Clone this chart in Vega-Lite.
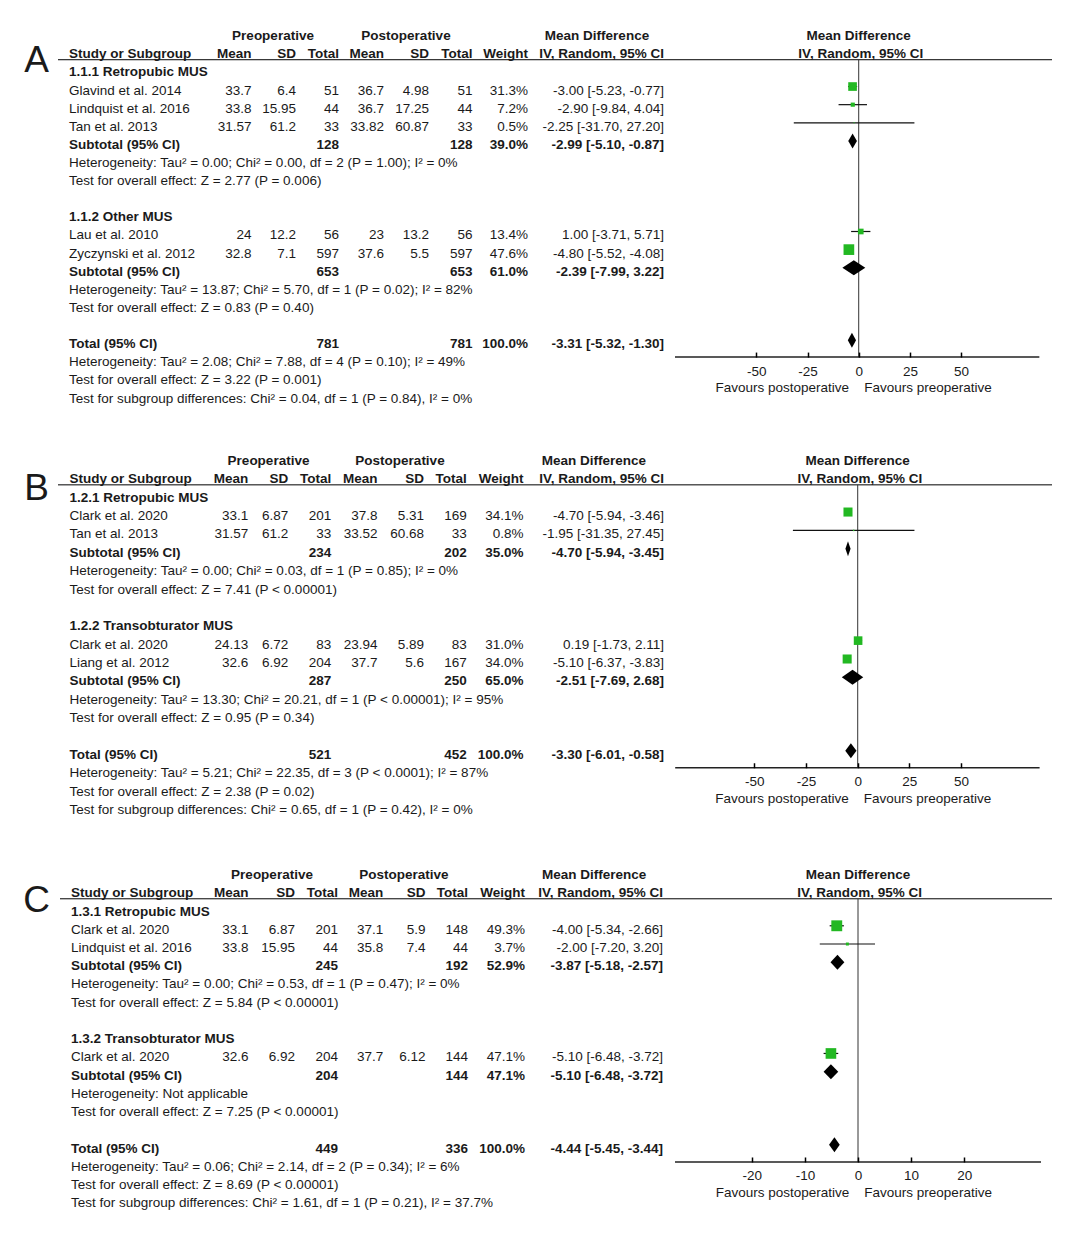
{
"$schema": "https://vega.github.io/schema/vega-lite/v6.json",
"padding": 0,
"background": "white",
"columns": 2,
"spacing": 0,
"align": "each",
"bounds": "flush",
"config": {"view": {"stroke": null}, "text": {"font": "Liberation Sans", "fontSize": 13.5, "color": "#1a1a1a", "baseline": "alphabetic", "dy": 8}},
"datasets": {"rows": [
{"p":"A","r":0,"t":"colhead","label":"Study or Subgroup","m1":"Mean","s1":"SD","n1":"Total","m2":"Mean","s2":"SD","n2":"Total","wt":"Weight","ci":"IV, Random, 95% CI"},
{"p":"A","r":1,"t":"head","label":"1.1.1 Retropubic MUS"},
{"p":"A","r":2,"t":"study","label":"Glavind et al. 2014","m1":33.7,"s1":6.4,"n1":51,"m2":36.7,"s2":4.98,"n2":51,"wt":"31.3%","ci":"-3.00 [-5.23, -0.77]","est":-3.0,"lo":-5.23,"hi":-0.77,"w":0.313},
{"p":"A","r":3,"t":"study","label":"Lindquist et al. 2016","m1":33.8,"s1":15.95,"n1":44,"m2":36.7,"s2":17.25,"n2":44,"wt":"7.2%","ci":"-2.90 [-9.84, 4.04]","est":-2.9,"lo":-9.84,"hi":4.04,"w":0.072},
{"p":"A","r":4,"t":"study","label":"Tan et al. 2013","m1":31.57,"s1":61.2,"n1":33,"m2":33.82,"s2":60.87,"n2":33,"wt":"0.5%","ci":"-2.25 [-31.70, 27.20]","est":-2.25,"lo":-31.7,"hi":27.2,"w":0.005},
{"p":"A","r":5,"t":"sub","label":"Subtotal (95% CI)","n1":128,"n2":128,"wt":"39.0%","ci":"-2.99 [-5.10, -0.87]","est":-2.99,"lo":-5.1,"hi":-0.87},
{"p":"A","r":6,"t":"note","label":"Heterogeneity: Tau² = 0.00; Chi² = 0.00, df = 2 (P = 1.00); I² = 0%"},
{"p":"A","r":7,"t":"note","label":"Test for overall effect: Z = 2.77 (P = 0.006)"},
{"p":"A","r":9,"t":"head","label":"1.1.2 Other MUS"},
{"p":"A","r":10,"t":"study","label":"Lau et al. 2010","m1":24,"s1":12.2,"n1":56,"m2":23,"s2":13.2,"n2":56,"wt":"13.4%","ci":"1.00 [-3.71, 5.71]","est":1.0,"lo":-3.71,"hi":5.71,"w":0.134},
{"p":"A","r":11,"t":"study","label":"Zyczynski et al. 2012","m1":32.8,"s1":7.1,"n1":597,"m2":37.6,"s2":5.5,"n2":597,"wt":"47.6%","ci":"-4.80 [-5.52, -4.08]","est":-4.8,"lo":-5.52,"hi":-4.08,"w":0.476},
{"p":"A","r":12,"t":"sub","label":"Subtotal (95% CI)","n1":653,"n2":653,"wt":"61.0%","ci":"-2.39 [-7.99, 3.22]","est":-2.39,"lo":-7.99,"hi":3.22},
{"p":"A","r":13,"t":"note","label":"Heterogeneity: Tau² = 13.87; Chi² = 5.70, df = 1 (P = 0.02); I² = 82%"},
{"p":"A","r":14,"t":"note","label":"Test for overall effect: Z = 0.83 (P = 0.40)"},
{"p":"A","r":16,"t":"tot","label":"Total (95% CI)","n1":781,"n2":781,"wt":"100.0%","ci":"-3.31 [-5.32, -1.30]","est":-3.31,"lo":-5.32,"hi":-1.3},
{"p":"A","r":17,"t":"note","label":"Heterogeneity: Tau² = 2.08; Chi² = 7.88, df = 4 (P = 0.10); I² = 49%"},
{"p":"A","r":18,"t":"note","label":"Test for overall effect: Z = 3.22 (P = 0.001)"},
{"p":"A","r":19,"t":"note","label":"Test for subgroup differences: Chi² = 0.04, df = 1 (P = 0.84), I² = 0%"},
{"p":"B","r":0,"t":"colhead","label":"Study or Subgroup","m1":"Mean","s1":"SD","n1":"Total","m2":"Mean","s2":"SD","n2":"Total","wt":"Weight","ci":"IV, Random, 95% CI"},
{"p":"B","r":1,"t":"head","label":"1.2.1 Retropubic MUS"},
{"p":"B","r":2,"t":"study","label":"Clark et al. 2020","m1":33.1,"s1":6.87,"n1":201,"m2":37.8,"s2":5.31,"n2":169,"wt":"34.1%","ci":"-4.70 [-5.94, -3.46]","est":-4.7,"lo":-5.94,"hi":-3.46,"w":0.341},
{"p":"B","r":3,"t":"study","label":"Tan et al. 2013","m1":31.57,"s1":61.2,"n1":33,"m2":33.52,"s2":60.68,"n2":33,"wt":"0.8%","ci":"-1.95 [-31.35, 27.45]","est":-1.95,"lo":-31.35,"hi":27.45,"w":0.008},
{"p":"B","r":4,"t":"sub","label":"Subtotal (95% CI)","n1":234,"n2":202,"wt":"35.0%","ci":"-4.70 [-5.94, -3.45]","est":-4.7,"lo":-5.94,"hi":-3.45},
{"p":"B","r":5,"t":"note","label":"Heterogeneity: Tau² = 0.00; Chi² = 0.03, df = 1 (P = 0.85); I² = 0%"},
{"p":"B","r":6,"t":"note","label":"Test for overall effect: Z = 7.41 (P < 0.00001)"},
{"p":"B","r":8,"t":"head","label":"1.2.2 Transobturator MUS"},
{"p":"B","r":9,"t":"study","label":"Clark et al. 2020","m1":24.13,"s1":6.72,"n1":83,"m2":23.94,"s2":5.89,"n2":83,"wt":"31.0%","ci":"0.19 [-1.73, 2.11]","est":0.19,"lo":-1.73,"hi":2.11,"w":0.31},
{"p":"B","r":10,"t":"study","label":"Liang et al. 2012","m1":32.6,"s1":6.92,"n1":204,"m2":37.7,"s2":5.6,"n2":167,"wt":"34.0%","ci":"-5.10 [-6.37, -3.83]","est":-5.1,"lo":-6.37,"hi":-3.83,"w":0.34},
{"p":"B","r":11,"t":"sub","label":"Subtotal (95% CI)","n1":287,"n2":250,"wt":"65.0%","ci":"-2.51 [-7.69, 2.68]","est":-2.51,"lo":-7.69,"hi":2.68},
{"p":"B","r":12,"t":"note","label":"Heterogeneity: Tau² = 13.30; Chi² = 20.21, df = 1 (P < 0.00001); I² = 95%"},
{"p":"B","r":13,"t":"note","label":"Test for overall effect: Z = 0.95 (P = 0.34)"},
{"p":"B","r":15,"t":"tot","label":"Total (95% CI)","n1":521,"n2":452,"wt":"100.0%","ci":"-3.30 [-6.01, -0.58]","est":-3.3,"lo":-6.01,"hi":-0.58},
{"p":"B","r":16,"t":"note","label":"Heterogeneity: Tau² = 5.21; Chi² = 22.35, df = 3 (P < 0.0001); I² = 87%"},
{"p":"B","r":17,"t":"note","label":"Test for overall effect: Z = 2.38 (P = 0.02)"},
{"p":"B","r":18,"t":"note","label":"Test for subgroup differences: Chi² = 0.65, df = 1 (P = 0.42), I² = 0%"},
{"p":"C","r":0,"t":"colhead","label":"Study or Subgroup","m1":"Mean","s1":"SD","n1":"Total","m2":"Mean","s2":"SD","n2":"Total","wt":"Weight","ci":"IV, Random, 95% CI"},
{"p":"C","r":1,"t":"head","label":"1.3.1 Retropubic MUS"},
{"p":"C","r":2,"t":"study","label":"Clark et al. 2020","m1":33.1,"s1":6.87,"n1":201,"m2":37.1,"s2":5.9,"n2":148,"wt":"49.3%","ci":"-4.00 [-5.34, -2.66]","est":-4.0,"lo":-5.34,"hi":-2.66,"w":0.493},
{"p":"C","r":3,"t":"study","label":"Lindquist et al. 2016","m1":33.8,"s1":15.95,"n1":44,"m2":35.8,"s2":7.4,"n2":44,"wt":"3.7%","ci":"-2.00 [-7.20, 3.20]","est":-2.0,"lo":-7.2,"hi":3.2,"w":0.037},
{"p":"C","r":4,"t":"sub","label":"Subtotal (95% CI)","n1":245,"n2":192,"wt":"52.9%","ci":"-3.87 [-5.18, -2.57]","est":-3.87,"lo":-5.18,"hi":-2.57},
{"p":"C","r":5,"t":"note","label":"Heterogeneity: Tau² = 0.00; Chi² = 0.53, df = 1 (P = 0.47); I² = 0%"},
{"p":"C","r":6,"t":"note","label":"Test for overall effect: Z = 5.84 (P < 0.00001)"},
{"p":"C","r":8,"t":"head","label":"1.3.2 Transobturator MUS"},
{"p":"C","r":9,"t":"study","label":"Clark et al. 2020","m1":32.6,"s1":6.92,"n1":204,"m2":37.7,"s2":6.12,"n2":144,"wt":"47.1%","ci":"-5.10 [-6.48, -3.72]","est":-5.1,"lo":-6.48,"hi":-3.72,"w":0.471},
{"p":"C","r":10,"t":"sub","label":"Subtotal (95% CI)","n1":204,"n2":144,"wt":"47.1%","ci":"-5.10 [-6.48, -3.72]","est":-5.1,"lo":-6.48,"hi":-3.72},
{"p":"C","r":11,"t":"note","label":"Heterogeneity: Not applicable"},
{"p":"C","r":12,"t":"note","label":"Test for overall effect: Z = 7.25 (P < 0.00001)"},
{"p":"C","r":14,"t":"tot","label":"Total (95% CI)","n1":449,"n2":336,"wt":"100.0%","ci":"-4.44 [-5.45, -3.44]","est":-4.44,"lo":-5.45,"hi":-3.44},
{"p":"C","r":15,"t":"note","label":"Heterogeneity: Tau² = 0.06; Chi² = 2.14, df = 2 (P = 0.34); I² = 6%"},
{"p":"C","r":16,"t":"note","label":"Test for overall effect: Z = 8.69 (P < 0.00001)"},
{"p":"C","r":17,"t":"note","label":"Test for subgroup differences: Chi² = 1.61, df = 1 (P = 0.21), I² = 37.7%"}
]},
"concat": [
{
"width": 668, "height": 440,
"data": {"name": "rows"},
"transform": [{"filter": "datum.p == 'A'"}],
"layer": [
{"data": {"values": [{}]}, "mark": {"type": "rule", "color": "#000", "strokeWidth": 1},
 "encoding": {"x": {"datum": 58, "type": "quantitative", "scale": {"domain": [0, 668], "nice": false, "zero": false}, "axis": null}, "x2": {"datum": 668},
  "y": {"datum": 0.52, "type": "quantitative", "scale": {"domain": [-2.776, 21.507], "reverse": true, "nice": false, "zero": false}, "axis": null}}},
{"mark": {"type": "text", "align": "left", "fontWeight": {"expr": "datum.t == 'study' || datum.t == 'note' ? 'normal' : 'bold'"}},
 "encoding": {"x": {"datum": 69, "axis": null}, "y": {"field": "r", "type": "quantitative", "axis": null}, "text": {"field": "label", "type": "nominal"}}},
{"transform": [{"filter": "isValid(datum.m1)"}], "mark": {"type": "text", "align": "right", "fontWeight": {"expr": "datum.t == 'study' ? 'normal' : 'bold'"}},
 "encoding": {"x": {"datum": 251.5, "axis": null}, "y": {"field": "r", "type": "quantitative", "axis": null}, "text": {"field": "m1", "type": "nominal"}}},
{"transform": [{"filter": "isValid(datum.s1)"}], "mark": {"type": "text", "align": "right", "fontWeight": {"expr": "datum.t == 'study' ? 'normal' : 'bold'"}},
 "encoding": {"x": {"datum": 296, "axis": null}, "y": {"field": "r", "type": "quantitative", "axis": null}, "text": {"field": "s1", "type": "nominal"}}},
{"transform": [{"filter": "isValid(datum.n1)"}], "mark": {"type": "text", "align": "right", "fontWeight": {"expr": "datum.t == 'study' ? 'normal' : 'bold'"}},
 "encoding": {"x": {"datum": 339, "axis": null}, "y": {"field": "r", "type": "quantitative", "axis": null}, "text": {"field": "n1", "type": "nominal"}}},
{"transform": [{"filter": "isValid(datum.m2)"}], "mark": {"type": "text", "align": "right", "fontWeight": {"expr": "datum.t == 'study' ? 'normal' : 'bold'"}},
 "encoding": {"x": {"datum": 384, "axis": null}, "y": {"field": "r", "type": "quantitative", "axis": null}, "text": {"field": "m2", "type": "nominal"}}},
{"transform": [{"filter": "isValid(datum.s2)"}], "mark": {"type": "text", "align": "right", "fontWeight": {"expr": "datum.t == 'study' ? 'normal' : 'bold'"}},
 "encoding": {"x": {"datum": 429, "axis": null}, "y": {"field": "r", "type": "quantitative", "axis": null}, "text": {"field": "s2", "type": "nominal"}}},
{"transform": [{"filter": "isValid(datum.n2)"}], "mark": {"type": "text", "align": "right", "fontWeight": {"expr": "datum.t == 'study' ? 'normal' : 'bold'"}},
 "encoding": {"x": {"datum": 472.5, "axis": null}, "y": {"field": "r", "type": "quantitative", "axis": null}, "text": {"field": "n2", "type": "nominal"}}},
{"transform": [{"filter": "isValid(datum.wt)"}], "mark": {"type": "text", "align": "right", "fontWeight": {"expr": "datum.t == 'study' ? 'normal' : 'bold'"}},
 "encoding": {"x": {"datum": 528, "axis": null}, "y": {"field": "r", "type": "quantitative", "axis": null}, "text": {"field": "wt", "type": "nominal"}}},
{"transform": [{"filter": "isValid(datum.ci)"}], "mark": {"type": "text", "align": "right", "fontWeight": {"expr": "datum.t == 'study' ? 'normal' : 'bold'"}},
 "encoding": {"x": {"datum": 664, "axis": null}, "y": {"field": "r", "type": "quantitative", "axis": null}, "text": {"field": "ci", "type": "nominal"}}},
{"data": {"values": [{}]}, "mark": {"type": "text", "align": "center", "fontWeight": "bold"},
 "encoding": {"x": {"datum": 273, "axis": null}, "y": {"datum": -1, "axis": null}, "text": {"value": "Preoperative"}}},
{"data": {"values": [{}]}, "mark": {"type": "text", "align": "center", "fontWeight": "bold"},
 "encoding": {"x": {"datum": 406, "axis": null}, "y": {"datum": -1, "axis": null}, "text": {"value": "Postoperative"}}},
{"data": {"values": [{}]}, "mark": {"type": "text", "align": "center", "fontWeight": "bold"},
 "encoding": {"x": {"datum": 597, "axis": null}, "y": {"datum": -1, "axis": null}, "text": {"value": "Mean Difference"}}},
{"data": {"values": [{}]}, "mark": {"type": "text", "align": "center", "fontSize": 37},
 "encoding": {"x": {"datum": 36.5, "axis": null}, "y": {"datum": 0.756, "axis": null}, "text": {"value": "A"}}}
]
},
{
"width": 384, "height": 357.07,
"data": {"name": "rows"},
"transform": [{"filter": "datum.p == 'A'"}],
"layer": [
{"data": {"values": [{}]}, "mark": {"type": "rule", "color": "#000", "strokeWidth": 1},
 "encoding": {"x": {"datum": -93.12, "type": "quantitative", "scale": {"domain": [-93.12, 94.38], "nice": false, "zero": false},
   "axis": {"values": [-50, -25, 0, 25, 50], "labelExpr": "'' + datum.value", "domain": false, "grid": false, "ticks": true, "tickSize": 5, "tickWidth": 1.5, "tickColor": "#000", "offset": -5, "labelPadding": 7, "labelFont": "Liberation Sans", "labelFontSize": 13.5, "labelColor": "#1a1a1a", "labelFlush": false, "labelOverlap": false, "title": null, "zindex": 1}},
  "x2": {"datum": 94.38},
  "y": {"datum": 0.52, "type": "quantitative", "scale": {"domain": [-2.776, 16.93], "reverse": true, "nice": false, "zero": false}, "axis": null}}},
{"data": {"values": [{}]}, "mark": {"type": "rule", "color": "#333", "strokeWidth": 1},
 "encoding": {"x": {"datum": 0}, "y": {"datum": 0.52, "axis": null}, "y2": {"datum": 16.93}}},
{"data": {"values": [{}]}, "mark": {"type": "rule", "color": "#222", "strokeWidth": 1.5},
 "encoding": {"x": {"datum": -89.7}, "x2": {"datum": 88.2}, "y": {"datum": 16.93, "axis": null}}},
{"data": {"values": [{}]}, "mark": {"type": "text", "align": "center", "fontWeight": "bold"},
 "encoding": {"x": {"datum": 0}, "y": {"datum": -1, "axis": null}, "text": {"value": "Mean Difference"}}},
{"data": {"values": [{}]}, "mark": {"type": "text", "align": "center", "fontWeight": "bold"},
 "encoding": {"x": {"datum": 1}, "y": {"datum": 0, "axis": null}, "text": {"value": "IV, Random, 95% CI"}}},
{"data": {"values": [{}]}, "mark": {"type": "text", "align": "right"},
 "encoding": {"x": {"datum": -4.7}, "y": {"datum": 18.41, "axis": null}, "text": {"value": "Favours postoperative"}}},
{"data": {"values": [{}]}, "mark": {"type": "text", "align": "left"},
 "encoding": {"x": {"datum": 2.7}, "y": {"datum": 18.41, "axis": null}, "text": {"value": "Favours preoperative"}}},
{"transform": [{"filter": "datum.t == 'study'"}], "mark": {"type": "rule", "color": "#111", "strokeWidth": 1.2},
 "encoding": {"x": {"field": "lo", "type": "quantitative"}, "x2": {"field": "hi"}, "y": {"field": "r", "type": "quantitative", "axis": null}}},
{"transform": [{"filter": "datum.t == 'study'"}], "mark": {"type": "point", "shape": "square", "filled": true, "color": "#22b822", "opacity": 1, "strokeWidth": 0},
 "encoding": {"x": {"field": "est", "type": "quantitative"}, "y": {"field": "r", "type": "quantitative", "axis": null},
  "size": {"field": "w", "type": "quantitative", "scale": {"domain": [0, 1], "range": [0, 240]}, "legend": null}}},
{"transform": [{"filter": "datum.t == 'sub' || datum.t == 'tot'"}, {"fold": ["lo", "est", "hi"], "as": ["k", "v"]}],
 "mark": {"type": "area", "color": "#000", "yOffset": {"expr": "datum.k == 'est' ? -7.5 : 0"}, "y2Offset": {"expr": "datum.k == 'est' ? 7.5 : 0"}},
 "encoding": {"x": {"field": "v", "type": "quantitative"}, "y": {"field": "r", "type": "quantitative", "axis": null, "stack": null}, "y2": {"field": "r"}, "detail": {"field": "r", "type": "nominal"}}}
]
},
{
"width": 668, "height": 420,
"data": {"name": "rows"},
"transform": [{"filter": "datum.p == 'B'"}],
"layer": [
{"data": {"values": [{}]}, "mark": {"type": "rule", "color": "#000", "strokeWidth": 1},
 "encoding": {"x": {"datum": 58, "type": "quantitative", "scale": {"domain": [0, 668], "nice": false, "zero": false}, "axis": null}, "x2": {"datum": 668},
  "y": {"datum": 0.52, "type": "quantitative", "scale": {"domain": [-1.9216, 20.942], "reverse": true, "nice": false, "zero": false}, "axis": null}}},
{"mark": {"type": "text", "align": "left", "fontWeight": {"expr": "datum.t == 'study' || datum.t == 'note' ? 'normal' : 'bold'"}},
 "encoding": {"x": {"datum": 69.5, "axis": null}, "y": {"field": "r", "type": "quantitative", "axis": null}, "text": {"field": "label", "type": "nominal"}}},
{"transform": [{"filter": "isValid(datum.m1)"}], "mark": {"type": "text", "align": "right", "fontWeight": {"expr": "datum.t == 'study' ? 'normal' : 'bold'"}},
 "encoding": {"x": {"datum": 248.3, "axis": null}, "y": {"field": "r", "type": "quantitative", "axis": null}, "text": {"field": "m1", "type": "nominal"}}},
{"transform": [{"filter": "isValid(datum.s1)"}], "mark": {"type": "text", "align": "right", "fontWeight": {"expr": "datum.t == 'study' ? 'normal' : 'bold'"}},
 "encoding": {"x": {"datum": 288.3, "axis": null}, "y": {"field": "r", "type": "quantitative", "axis": null}, "text": {"field": "s1", "type": "nominal"}}},
{"transform": [{"filter": "isValid(datum.n1)"}], "mark": {"type": "text", "align": "right", "fontWeight": {"expr": "datum.t == 'study' ? 'normal' : 'bold'"}},
 "encoding": {"x": {"datum": 331.3, "axis": null}, "y": {"field": "r", "type": "quantitative", "axis": null}, "text": {"field": "n1", "type": "nominal"}}},
{"transform": [{"filter": "isValid(datum.m2)"}], "mark": {"type": "text", "align": "right", "fontWeight": {"expr": "datum.t == 'study' ? 'normal' : 'bold'"}},
 "encoding": {"x": {"datum": 377.5, "axis": null}, "y": {"field": "r", "type": "quantitative", "axis": null}, "text": {"field": "m2", "type": "nominal"}}},
{"transform": [{"filter": "isValid(datum.s2)"}], "mark": {"type": "text", "align": "right", "fontWeight": {"expr": "datum.t == 'study' ? 'normal' : 'bold'"}},
 "encoding": {"x": {"datum": 424, "axis": null}, "y": {"field": "r", "type": "quantitative", "axis": null}, "text": {"field": "s2", "type": "nominal"}}},
{"transform": [{"filter": "isValid(datum.n2)"}], "mark": {"type": "text", "align": "right", "fontWeight": {"expr": "datum.t == 'study' ? 'normal' : 'bold'"}},
 "encoding": {"x": {"datum": 466.7, "axis": null}, "y": {"field": "r", "type": "quantitative", "axis": null}, "text": {"field": "n2", "type": "nominal"}}},
{"transform": [{"filter": "isValid(datum.wt)"}], "mark": {"type": "text", "align": "right", "fontWeight": {"expr": "datum.t == 'study' ? 'normal' : 'bold'"}},
 "encoding": {"x": {"datum": 523.5, "axis": null}, "y": {"field": "r", "type": "quantitative", "axis": null}, "text": {"field": "wt", "type": "nominal"}}},
{"transform": [{"filter": "isValid(datum.ci)"}], "mark": {"type": "text", "align": "right", "fontWeight": {"expr": "datum.t == 'study' ? 'normal' : 'bold'"}},
 "encoding": {"x": {"datum": 664, "axis": null}, "y": {"field": "r", "type": "quantitative", "axis": null}, "text": {"field": "ci", "type": "nominal"}}},
{"data": {"values": [{}]}, "mark": {"type": "text", "align": "center", "fontWeight": "bold"},
 "encoding": {"x": {"datum": 268.5, "axis": null}, "y": {"datum": -1, "axis": null}, "text": {"value": "Preoperative"}}},
{"data": {"values": [{}]}, "mark": {"type": "text", "align": "center", "fontWeight": "bold"},
 "encoding": {"x": {"datum": 400, "axis": null}, "y": {"datum": -1, "axis": null}, "text": {"value": "Postoperative"}}},
{"data": {"values": [{}]}, "mark": {"type": "text", "align": "center", "fontWeight": "bold"},
 "encoding": {"x": {"datum": 593.8, "axis": null}, "y": {"datum": -1, "axis": null}, "text": {"value": "Mean Difference"}}},
{"data": {"values": [{}]}, "mark": {"type": "text", "align": "center", "fontSize": 37},
 "encoding": {"x": {"datum": 36.5, "axis": null}, "y": {"datum": 0.91, "axis": null}, "text": {"value": "B"}}}
]
},
{
"width": 384, "height": 327.75,
"data": {"name": "rows"},
"transform": [{"filter": "datum.p == 'B'"}],
"layer": [
{"data": {"values": [{}]}, "mark": {"type": "rule", "color": "#000", "strokeWidth": 1},
 "encoding": {"x": {"datum": -91.78, "type": "quantitative", "scale": {"domain": [-91.78, 94.0], "nice": false, "zero": false},
   "axis": {"values": [-50, -25, 0, 25, 50], "labelExpr": "'' + datum.value", "domain": false, "grid": false, "ticks": true, "tickSize": 5, "tickWidth": 1.5, "tickColor": "#000", "offset": -5, "labelPadding": 7, "labelFont": "Liberation Sans", "labelFontSize": 13.5, "labelColor": "#1a1a1a", "labelFlush": false, "labelOverlap": false, "title": null, "zindex": 1}},
  "x2": {"datum": 94.0},
  "y": {"datum": 0.52, "type": "quantitative", "scale": {"domain": [-1.9216, 15.92], "reverse": true, "nice": false, "zero": false}, "axis": null}}},
{"data": {"values": [{}]}, "mark": {"type": "rule", "color": "#333", "strokeWidth": 1},
 "encoding": {"x": {"datum": 0}, "y": {"datum": 0.52, "axis": null}, "y2": {"datum": 15.92}}},
{"data": {"values": [{}]}, "mark": {"type": "rule", "color": "#222", "strokeWidth": 1.5},
 "encoding": {"x": {"datum": -88.3}, "x2": {"datum": 88.0}, "y": {"datum": 15.92, "axis": null}}},
{"data": {"values": [{}]}, "mark": {"type": "text", "align": "center", "fontWeight": "bold"},
 "encoding": {"x": {"datum": 0}, "y": {"datum": -1, "axis": null}, "text": {"value": "Mean Difference"}}},
{"data": {"values": [{}]}, "mark": {"type": "text", "align": "center", "fontWeight": "bold"},
 "encoding": {"x": {"datum": 1}, "y": {"datum": 0, "axis": null}, "text": {"value": "IV, Random, 95% CI"}}},
{"data": {"values": [{}]}, "mark": {"type": "text", "align": "right"},
 "encoding": {"x": {"datum": -4.35}, "y": {"datum": 17.43, "axis": null}, "text": {"value": "Favours postoperative"}}},
{"data": {"values": [{}]}, "mark": {"type": "text", "align": "left"},
 "encoding": {"x": {"datum": 2.9}, "y": {"datum": 17.43, "axis": null}, "text": {"value": "Favours preoperative"}}},
{"transform": [{"filter": "datum.t == 'study'"}], "mark": {"type": "rule", "color": "#111", "strokeWidth": 1.2},
 "encoding": {"x": {"field": "lo", "type": "quantitative"}, "x2": {"field": "hi"}, "y": {"field": "r", "type": "quantitative", "axis": null}}},
{"transform": [{"filter": "datum.t == 'study'"}], "mark": {"type": "point", "shape": "square", "filled": true, "color": "#22b822", "opacity": 1, "strokeWidth": 0},
 "encoding": {"x": {"field": "est", "type": "quantitative"}, "y": {"field": "r", "type": "quantitative", "axis": null},
  "size": {"field": "w", "type": "quantitative", "scale": {"domain": [0, 1], "range": [0, 240]}, "legend": null}}},
{"transform": [{"filter": "datum.t == 'sub' || datum.t == 'tot'"}, {"fold": ["lo", "est", "hi"], "as": ["k", "v"]}],
 "mark": {"type": "area", "color": "#000", "yOffset": {"expr": "datum.k == 'est' ? -7.5 : 0"}, "y2Offset": {"expr": "datum.k == 'est' ? 7.5 : 0"}},
 "encoding": {"x": {"field": "v", "type": "quantitative"}, "y": {"field": "r", "type": "quantitative", "axis": null, "stack": null}, "y2": {"field": "r"}, "detail": {"field": "r", "type": "nominal"}}}
]
},
{
"width": 668, "height": 394,
"data": {"name": "rows"},
"transform": [{"filter": "datum.p == 'C'"}],
"layer": [
{"data": {"values": [{}]}, "mark": {"type": "rule", "color": "#000", "strokeWidth": 1},
 "encoding": {"x": {"datum": 60, "type": "quantitative", "scale": {"domain": [0, 668], "nice": false, "zero": false}, "axis": null}, "x2": {"datum": 668},
  "y": {"datum": 0.52, "type": "quantitative", "scale": {"domain": [-1.6064, 19.995], "reverse": true, "nice": false, "zero": false}, "axis": null}}},
{"mark": {"type": "text", "align": "left", "fontWeight": {"expr": "datum.t == 'study' || datum.t == 'note' ? 'normal' : 'bold'"}},
 "encoding": {"x": {"datum": 71, "axis": null}, "y": {"field": "r", "type": "quantitative", "axis": null}, "text": {"field": "label", "type": "nominal"}}},
{"transform": [{"filter": "isValid(datum.m1)"}], "mark": {"type": "text", "align": "right", "fontWeight": {"expr": "datum.t == 'study' ? 'normal' : 'bold'"}},
 "encoding": {"x": {"datum": 248.5, "axis": null}, "y": {"field": "r", "type": "quantitative", "axis": null}, "text": {"field": "m1", "type": "nominal"}}},
{"transform": [{"filter": "isValid(datum.s1)"}], "mark": {"type": "text", "align": "right", "fontWeight": {"expr": "datum.t == 'study' ? 'normal' : 'bold'"}},
 "encoding": {"x": {"datum": 295, "axis": null}, "y": {"field": "r", "type": "quantitative", "axis": null}, "text": {"field": "s1", "type": "nominal"}}},
{"transform": [{"filter": "isValid(datum.n1)"}], "mark": {"type": "text", "align": "right", "fontWeight": {"expr": "datum.t == 'study' ? 'normal' : 'bold'"}},
 "encoding": {"x": {"datum": 338, "axis": null}, "y": {"field": "r", "type": "quantitative", "axis": null}, "text": {"field": "n1", "type": "nominal"}}},
{"transform": [{"filter": "isValid(datum.m2)"}], "mark": {"type": "text", "align": "right", "fontWeight": {"expr": "datum.t == 'study' ? 'normal' : 'bold'"}},
 "encoding": {"x": {"datum": 383.3, "axis": null}, "y": {"field": "r", "type": "quantitative", "axis": null}, "text": {"field": "m2", "type": "nominal"}}},
{"transform": [{"filter": "isValid(datum.s2)"}], "mark": {"type": "text", "align": "right", "fontWeight": {"expr": "datum.t == 'study' ? 'normal' : 'bold'"}},
 "encoding": {"x": {"datum": 425.5, "axis": null}, "y": {"field": "r", "type": "quantitative", "axis": null}, "text": {"field": "s2", "type": "nominal"}}},
{"transform": [{"filter": "isValid(datum.n2)"}], "mark": {"type": "text", "align": "right", "fontWeight": {"expr": "datum.t == 'study' ? 'normal' : 'bold'"}},
 "encoding": {"x": {"datum": 468, "axis": null}, "y": {"field": "r", "type": "quantitative", "axis": null}, "text": {"field": "n2", "type": "nominal"}}},
{"transform": [{"filter": "isValid(datum.wt)"}], "mark": {"type": "text", "align": "right", "fontWeight": {"expr": "datum.t == 'study' ? 'normal' : 'bold'"}},
 "encoding": {"x": {"datum": 525, "axis": null}, "y": {"field": "r", "type": "quantitative", "axis": null}, "text": {"field": "wt", "type": "nominal"}}},
{"transform": [{"filter": "isValid(datum.ci)"}], "mark": {"type": "text", "align": "right", "fontWeight": {"expr": "datum.t == 'study' ? 'normal' : 'bold'"}},
 "encoding": {"x": {"datum": 663, "axis": null}, "y": {"field": "r", "type": "quantitative", "axis": null}, "text": {"field": "ci", "type": "nominal"}}},
{"data": {"values": [{}]}, "mark": {"type": "text", "align": "center", "fontWeight": "bold"},
 "encoding": {"x": {"datum": 272, "axis": null}, "y": {"datum": -1, "axis": null}, "text": {"value": "Preoperative"}}},
{"data": {"values": [{}]}, "mark": {"type": "text", "align": "center", "fontWeight": "bold"},
 "encoding": {"x": {"datum": 403.8, "axis": null}, "y": {"datum": -1, "axis": null}, "text": {"value": "Postoperative"}}},
{"data": {"values": [{}]}, "mark": {"type": "text", "align": "center", "fontWeight": "bold"},
 "encoding": {"x": {"datum": 594.2, "axis": null}, "y": {"datum": -1, "axis": null}, "text": {"value": "Mean Difference"}}},
{"data": {"values": [{}]}, "mark": {"type": "text", "align": "center", "fontSize": 37},
 "encoding": {"x": {"datum": 36.5, "axis": null}, "y": {"datum": 0.83, "axis": null}, "text": {"value": "C"}}}
]
},
{
"width": 384, "height": 301.99,
"data": {"name": "rows"},
"transform": [{"filter": "datum.p == 'C'"}],
"layer": [
{"data": {"values": [{}]}, "mark": {"type": "rule", "color": "#000", "strokeWidth": 1},
 "encoding": {"x": {"datum": -35.78, "type": "quantitative", "scale": {"domain": [-35.78, 36.53], "nice": false, "zero": false},
   "axis": {"values": [-20, -10, 0, 10, 20], "labelExpr": "'' + datum.value", "domain": false, "grid": false, "ticks": true, "tickSize": 5, "tickWidth": 1.5, "tickColor": "#000", "offset": -5, "labelPadding": 7, "labelFont": "Liberation Sans", "labelFontSize": 13.5, "labelColor": "#1a1a1a", "labelFlush": false, "labelOverlap": false, "title": null, "zindex": 1}},
  "x2": {"datum": 36.53},
  "y": {"datum": 0.52, "type": "quantitative", "scale": {"domain": [-1.6064, 14.95], "reverse": true, "nice": false, "zero": false}, "axis": null}}},
{"data": {"values": [{}]}, "mark": {"type": "rule", "color": "#333", "strokeWidth": 1},
 "encoding": {"x": {"datum": 0}, "y": {"datum": 0.52, "axis": null}, "y2": {"datum": 14.95}}},
{"data": {"values": [{}]}, "mark": {"type": "rule", "color": "#222", "strokeWidth": 1.5},
 "encoding": {"x": {"datum": -34.46}, "x2": {"datum": 34.46}, "y": {"datum": 14.95, "axis": null}}},
{"data": {"values": [{}]}, "mark": {"type": "text", "align": "center", "fontWeight": "bold"},
 "encoding": {"x": {"datum": 0}, "y": {"datum": -1, "axis": null}, "text": {"value": "Mean Difference"}}},
{"data": {"values": [{}]}, "mark": {"type": "text", "align": "center", "fontWeight": "bold"},
 "encoding": {"x": {"datum": 0.3}, "y": {"datum": 0, "axis": null}, "text": {"value": "IV, Random, 95% CI"}}},
{"data": {"values": [{}]}, "mark": {"type": "text", "align": "right"},
 "encoding": {"x": {"datum": -1.64}, "y": {"datum": 16.44, "axis": null}, "text": {"value": "Favours postoperative"}}},
{"data": {"values": [{}]}, "mark": {"type": "text", "align": "left"},
 "encoding": {"x": {"datum": 1.19}, "y": {"datum": 16.44, "axis": null}, "text": {"value": "Favours preoperative"}}},
{"transform": [{"filter": "datum.t == 'study'"}], "mark": {"type": "rule", "color": "#111", "strokeWidth": 1.2},
 "encoding": {"x": {"field": "lo", "type": "quantitative"}, "x2": {"field": "hi"}, "y": {"field": "r", "type": "quantitative", "axis": null}}},
{"transform": [{"filter": "datum.t == 'study'"}], "mark": {"type": "point", "shape": "square", "filled": true, "color": "#22b822", "opacity": 1, "strokeWidth": 0},
 "encoding": {"x": {"field": "est", "type": "quantitative"}, "y": {"field": "r", "type": "quantitative", "axis": null},
  "size": {"field": "w", "type": "quantitative", "scale": {"domain": [0, 1], "range": [0, 240]}, "legend": null}}},
{"transform": [{"filter": "datum.t == 'sub' || datum.t == 'tot'"}, {"fold": ["lo", "est", "hi"], "as": ["k", "v"]}],
 "mark": {"type": "area", "color": "#000", "yOffset": {"expr": "datum.k == 'est' ? -7.5 : 0"}, "y2Offset": {"expr": "datum.k == 'est' ? 7.5 : 0"}},
 "encoding": {"x": {"field": "v", "type": "quantitative"}, "y": {"field": "r", "type": "quantitative", "axis": null, "stack": null}, "y2": {"field": "r"}, "detail": {"field": "r", "type": "nominal"}}}
]
}
]
}
